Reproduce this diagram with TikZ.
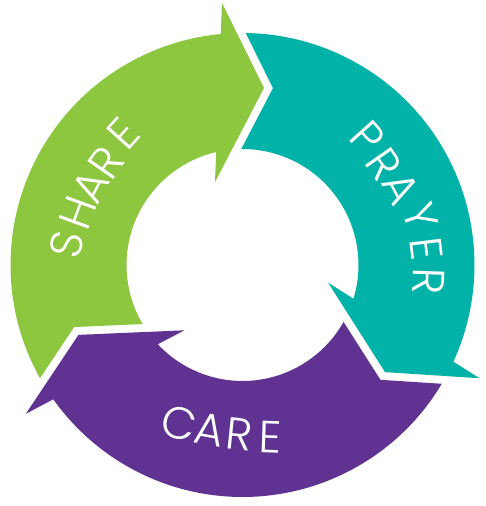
\documentclass[tikz,border=0pt]{standalone}
\usepackage{fontspec}
\setmainfont{Poppins Light}
\definecolor{sharegreen}{RGB}{141,198,63}
\definecolor{prayerteal}{RGB}{0,178,167}
\definecolor{carepurple}{RGB}{96,50,145}
\begin{document}
\begin{tikzpicture}[x=1pt,y=1pt,
  letter/.style={text=white,inner sep=0pt,font=\fontsize{45}{45}\selectfont}]
\fill[white] (0,0) rectangle (485,506);
\path[use as bounding box] (0,0) rectangle (485,506);
\coordinate (ctr) at (242.5,241);
\foreach \r/\c in {0/sharegreen,-120/prayerteal,120/carepurple}{
  \fill[\c, shift={(ctr)}, rotate=\r]
    (209.2:232) arc[start angle=209.2, end angle=95.37, radius=232]
    -- (-20.5,262) -- (21.5,177) -- (-27.5,83)
    -- (103.1:116) arc[start angle=103.1, end angle=210.6, radius=116]
    -- (200.23:179.5) -- cycle;
}
% SHARE
\node[letter,rotate=78] (s1) at (67,261) {S};
\node[letter,rotate=70] (s2) at (78.3,293.7) {H};
\node[letter,rotate=62] (s3) at (90.7,319.3) {A};
\node[letter,rotate=55] (s4) at (105.7,343.7) {R};
\node[letter,rotate=48] (s5) at (123.3,372.7) {E};
% PRAYER
\node[letter,rotate=-48] (p1) at (367.3,368.7) {P};
\node[letter,rotate=-55] (p2) at (384,342) {R};
\node[letter,rotate=-62] (p3) at (400.7,317.7) {A};
\node[letter,rotate=-72] (p4) at (420,289.5) {Y};
\node[letter,rotate=-83] (p5) at (426.5,257.5) {E};
\node[letter,rotate=-92] (p6) at (429,224.3) {R};
% CARE
\node[letter,rotate=-14] (c1) at (179.5,82.5) {C};
\node[letter,rotate=-10] (c2) at (209.5,76) {A};
\node[letter,rotate=-6] (c3) at (239,72) {R};
\node[letter,rotate=-2] (c4) at (270,68.5) {E};
\end{tikzpicture}
\end{document}
